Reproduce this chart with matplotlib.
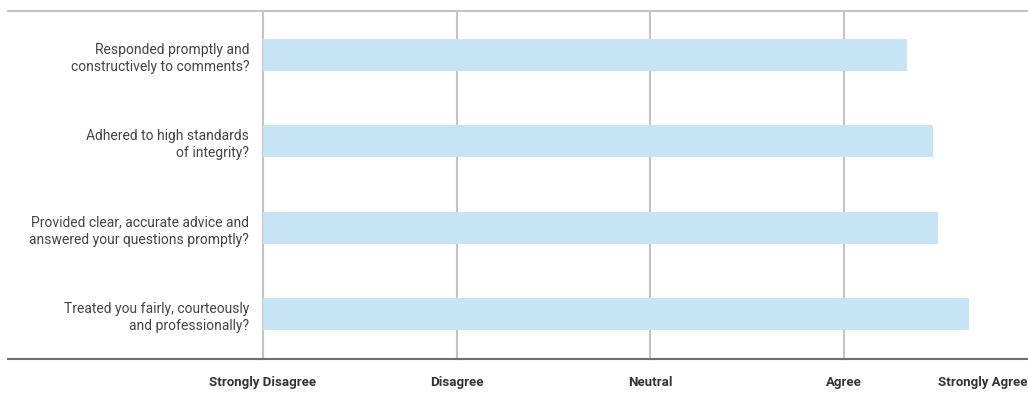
import matplotlib
matplotlib.use("Agg")
import matplotlib.pyplot as plt

## data
questions = [
    "Responded promptly and\nconstructively to comments?",
    "Adhered to high standards\nof integrity?",
    "Provided clear, accurate advice and\nanswered your questions promptly?",
    "Treated you fairly, courteously\nand professionally?",
]
scores = [4.33, 4.46, 4.49, 4.65]
scale_labels = ["Strongly Disagree", "Disagree", "Neutral", "Agree", "Strongly Agree"]
scale_values = [1, 2, 3, 4, 5]

plt.rcParams['font.family'] = ['Roboto', 'DejaVu Sans']

fig = plt.figure(figsize=(10.28, 3.94), dpi=100)
# axes from value 1 (x=263px) to right edge
ax = fig.add_axes([263/1028, 1 - 359/394, 1 - 263/1028, (359 - 11)/394])

ypos = list(range(len(questions)))
base = scale_values[0]
ax.barh(ypos, [s - base for s in scores], left=base, height=0.37, color='#c6e4f5', zorder=2)
ax.set_ylim(3.52, -0.51)
ax.set_xlim(1, 1 + (1028 - 263)/193.5)

for v in scale_values[:-1]:
    ax.axvline(v, color='#c4c4c4', lw=1.5, zorder=1, clip_on=False)

frac = -(263 - 8)/(1028 - 263)
ax.axhline(ax.get_ylim()[1], xmin=frac, xmax=1, color='#c4c4c4', lw=1.5, clip_on=False)
ax.axhline(ax.get_ylim()[0], xmin=frac, xmax=1, color='#707070', lw=1.5, clip_on=False)

for s in ax.spines.values():
    s.set_visible(False)

ax.set_yticks(ypos)
ax.set_yticklabels(questions, fontsize=10, color='#444444', linespacing=1.3)
ax.tick_params(axis='y', length=0, pad=10)

ax.set_xticks(scale_values[:-1])
ax.set_xticklabels(scale_labels[:-1], fontsize=9.5, fontweight='bold', color='#333333')
ax.tick_params(axis='x', length=0, pad=12)
ax.text(1.0, -0.05, scale_labels[-1], transform=ax.transAxes, ha='right', va='top',
        fontsize=9.5, fontweight='bold', color='#333333')

fig.savefig('out.png', dpi=100)
